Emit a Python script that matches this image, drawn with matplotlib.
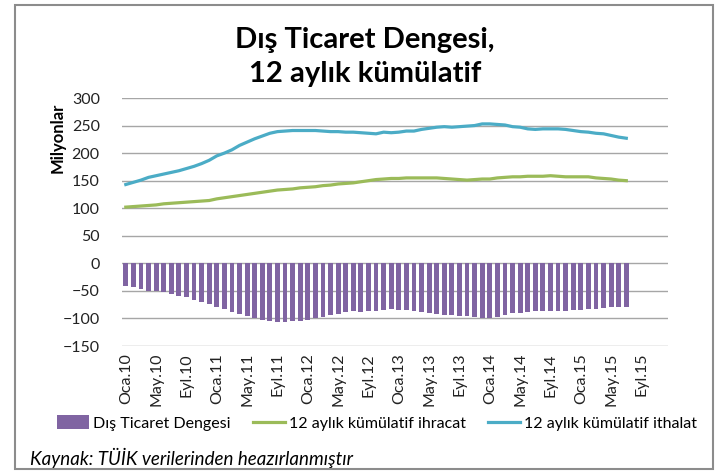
import numpy as np
import matplotlib
matplotlib.use("Agg")
from matplotlib import pyplot as plt
from matplotlib.patches import Rectangle

plt.rcParams["font.family"] = ["Lato", "DejaVu Sans"]

# 12-month cumulative, Jan 2010 - Jul 2015 (billion USD)
ihracat = [102, 103, 104, 105, 106, 108, 109, 110, 111, 112, 113, 114,
           117, 119, 121, 123, 125, 127, 129, 131, 133, 134, 135, 137,
           138, 139, 141, 142, 144, 145, 146, 148, 150, 152, 153, 154,
           154, 155, 155, 155, 155, 155, 154, 153, 152, 151, 152, 153,
           153, 155, 156, 157, 157, 158, 158, 158, 159, 158, 157, 157,
           157, 157, 155, 154, 153, 151, 150]
ithalat = [143, 147, 151, 156, 159, 162, 165, 168, 172, 176, 181, 187,
           195, 200, 206, 214, 220, 226, 231, 236, 239, 240, 241, 241,
           241, 241, 240, 239, 239, 238, 238, 237, 236, 235, 238, 237,
           238, 240, 240, 243, 245, 247, 248, 247, 248, 249, 250, 253,
           253, 252, 251, 248, 247, 244, 243, 244, 244, 244, 243, 241,
           239, 238, 236, 235, 232, 229, 227]
denge = [-41, -43.5, -47, -49.5, -51, -52.5, -55.5, -58.5, -61.5, -66.5, -70.5, -74.5,
         -78.5, -83.5, -87.5, -92.5, -95.5, -100, -103, -105, -106, -106, -104.5, -104,
         -103, -100, -97, -94.5, -91.5, -89, -86.5, -87.5, -86, -86, -84.5, -83.5,
         -84.5, -85, -86, -88, -90, -92, -93, -94, -95, -96, -97, -100,
         -100, -97, -94, -91, -89.5, -88, -87, -86.5, -86, -86, -86, -85,
         -84.5, -83.5, -82, -81, -80, -78.5, -78.5]

aylar = ["Oca", "May", "Eyl"]
n_cat = 72  # Jan 2010 - Dec 2015 category axis
tick_pos = list(range(0, n_cat, 4))
tick_labels = [f"{aylar[(p % 12) // 4]}.{10 + p // 12}" for p in tick_pos]

mor = "#8064a2"
yesil = "#9bbb59"
mavi = "#4bacc6"

fig = plt.figure(figsize=(7.21, 4.72), dpi=100)
ax = fig.add_axes([122 / 721, 1 - 346 / 472, 546 / 721, 248 / 472])

x = np.arange(len(denge))
b = ax.bar(x, denge, width=0.64, color=mor, label="Dış Ticaret Dengesi", zorder=2)
l1, = ax.plot(x, ihracat, color=yesil, lw=2.3, label="12 aylık kümülatif ihracat", zorder=3)
l2, = ax.plot(x, ithalat, color=mavi, lw=2.3, label="12 aylık kümülatif ithalat", zorder=3)

ax.set_xlim(-0.5, n_cat - 0.5)
ax.set_ylim(-150, 300)
ax.set_yticks(np.arange(-150, 301, 50))
ax.set_xticks(tick_pos)
ax.set_xticklabels(tick_labels, rotation=90, fontsize=11.5, color="#222222")
ax.tick_params(axis="y", labelsize=11.5, labelcolor="#222222", length=0, pad=16)
ax.tick_params(axis="x", length=0, pad=5)
ax.grid(axis="y", color="#a6a6a6", lw=1)
ax.set_axisbelow(True)
for s in ax.spines.values():
    s.set_visible(False)

fig.text(58 / 721, 1 - 138 / 472, "Milyonlar", rotation=90, fontsize=12,
         fontweight="bold", ha="center", va="center")

fig.text(365 / 721, 1 - 57 / 472, "Dış Ticaret Dengesi,\n12 aylık kümülatif",
         fontsize=21, fontweight="bold", ha="center", va="center", linespacing=1.35)

fig.legend(handles=[b, l1, l2], loc="center", bbox_to_anchor=(377 / 721, 1 - 423 / 472),
           ncol=3, frameon=False, fontsize=11.5, handlelength=2.0, handleheight=0.9,
           columnspacing=1.4, handletextpad=0.25)

fig.text(30 / 721, 1 - 458 / 472, "Kaynak: TÜİK verilerinden heazırlanmıştır",
         fontsize=13.5, style="italic", ha="left", va="center")

fig.add_artist(Rectangle((15 / 721, 1 - 469 / 472), 698 / 721, 464 / 472,
                         transform=fig.transFigure, fill=False,
                         edgecolor="#8c8c8c", lw=1.5))

fig.savefig("out.png", dpi=100)
